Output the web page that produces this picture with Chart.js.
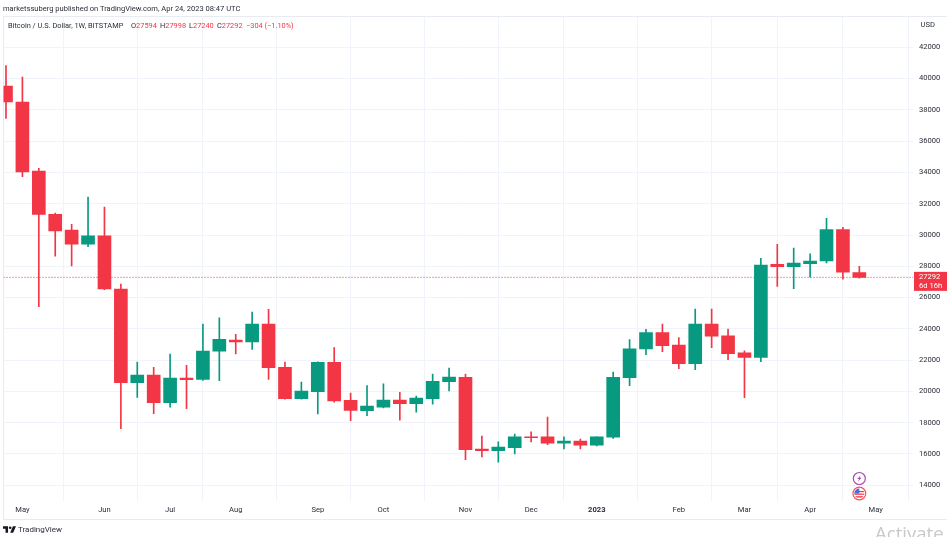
<!DOCTYPE html>
<html><head><meta charset="utf-8">
<script src="https://cdn.jsdelivr.net/npm/chart.js@4"></script>
<style>
html,body{margin:0;padding:0;background:#fff;width:947px;height:537px;overflow:hidden;font-family:Roboto,"Liberation Sans",sans-serif}
canvas{position:absolute;left:0;top:0}
.t{position:absolute;white-space:pre;color:#131722}
#frame{position:absolute;left:3px;top:16px;width:950px;height:502px;border:1px solid #e9ebf2;box-sizing:content-box}
#leg span{display:inline-block}
#leg b{font-weight:normal;display:inline-block;position:absolute;top:0}
</style></head><body>
<div id="frame"></div>
<canvas id="c" width="947" height="537"></canvas>
<div class="t" id="pub" style="left:3px;top:4px;font-size:7.55px;line-height:10px;color:#2a2e39"></div>
<div class="t" id="leg" style="left:8px;top:21px;font-size:7.4px;line-height:10px;color:#2a2e39"></div>
<svg style="position:absolute;left:3px;top:526px" width="13" height="7" viewBox="0 0 36 18"><path fill="#131722" d="M14 18H7V7H0V0h14zM28 18h-8l7.5-18H36z"/><circle cx="20" cy="4" r="3.6" fill="#131722"/></svg>
<div class="t" id="tvb" style="left:18px;top:524px;font-size:8px;line-height:11px;color:#2a2e39">TradingView</div>
<div class="t" style="left:875px;top:521px;font-size:18.6px;line-height:24px;color:#c9c9c9;font-family:'Open Sans',sans-serif">Activate</div>
<script>
const symbolTitle = "Bitcoin / U.S. Dollar, 1W, BITSTAMP";
const publishLine = "marketssuberg published on TradingView.com, Apr 24, 2023 08:47 UTC";
const changeLabel = "\u2212304 (\u22121.10%)";
const opens  = [39526,38500,34090,31320,30320,29420,29940,26550,20560,21050,19280,20860,20770,22580,23290,23160,24310,21540,19540,19980,21860,19430,18770,19000,19450,19210,19540,20620,20900,16320,16210,16400,17090,17090,16700,16830,16570,17070,20880,22710,23760,22970,21770,24310,23560,22460,22180,28130,27980,28170,28340,30340,27594];
const highs  = [40824,40100,34260,31400,30680,32430,31790,26870,21880,21540,22390,21670,24310,24700,23650,25080,25250,21880,20600,21900,22800,19900,20370,20480,19940,19710,21110,21500,21110,17150,16770,17280,17410,18360,17090,16950,17090,21240,23320,23970,24310,23440,25270,25270,23990,22600,28510,29400,29170,28790,31070,30490,27998];
const lows   = [37461,33730,25420,28640,28020,29250,26500,17620,19620,18580,19000,18900,20700,20690,22390,22690,20770,19500,19500,18560,19320,18130,18450,18950,18170,18670,19180,20030,15640,15810,15470,16000,16770,16590,16320,16320,16510,17000,20370,22350,22540,21450,21390,22800,22030,19600,21900,26720,26570,27300,28210,27170,27240];
const closes = [38503,34030,31320,30260,29420,29940,26550,20560,21050,19280,20860,20750,22580,23330,23160,24310,21520,19540,20030,21860,19390,18790,19070,19450,19210,19580,20650,20920,16270,16210,16450,17090,17050,16700,16830,16570,17090,20900,22720,23760,22920,21770,24310,23540,22410,22180,28080,27980,28210,28340,30340,27620,27292];
const monthTickIndex = [1,6,10,14,19,23,28,32,36,41,45,49,53];
const monthLabels = ["May","Jun","Jul","Aug","Sep","Oct","Nov","Dec","2023","Feb","Mar","Apr","May"];
const priceTicks = [14000,16000,18000,20000,22000,24000,26000,28000,30000,32000,34000,36000,38000,40000,42000];
const currency = "USD";
const countdown = "6d 16h";

const UP = "#089981", DOWN = "#F23645";
const xRange = [-0.152, 55.27];
const yRange = [12995, 43969];
const last = opens.length - 1;
const colors = closes.map((c,i)=> c>=opens[i] ? UP : DOWN);

document.getElementById('pub').textContent = publishLine;
const red = s => '<span style="color:'+DOWN+'">'+s+'</span>';
const at = (x,h) => '<b style="left:'+(x-8)+'px">'+h+'</b>';
document.getElementById('leg').innerHTML = symbolTitle
  + at(131,'O'+red(opens[last])) + at(160,'H'+red(highs[last])) + at(189,'L'+red(lows[last])) + at(217,'C'+red(closes[last])) + at(246,red(changeLabel));

const overlay = {
  id:'overlay',
  afterDraw(chart){
    const {ctx,scales:{x,y}} = chart;
    ctx.save();
    const py = y.getPixelForValue(closes[last]);
    ctx.fillStyle = DOWN;
    ctx.fillRect(914, py-5.5, 33, 19);
    ctx.fillStyle = '#fff';
    ctx.font = '7.6px Roboto, sans-serif';
    ctx.textAlign='left'; ctx.textBaseline='middle';
    ctx.fillText(String(closes[last]), 919, py);
    ctx.fillText(countdown, 919, py+9);
    ctx.fillStyle = '#2a2e39';
    ctx.fillText(currency, 920.5, 25);
    const ix = x.getPixelForValue(last);
    ctx.lineWidth = 1.2;
    ctx.strokeStyle = '#ab47bc';
    ctx.fillStyle = '#fff';
    ctx.beginPath(); ctx.arc(ix,478.5,6,0,Math.PI*2); ctx.fill(); ctx.stroke();
    ctx.fillStyle = '#ab47bc';
    ctx.beginPath();
    [[1.6,-3.6],[-2.2,0.6],[-0.2,0.6],[-1.6,3.6],[2.2,-0.8],[0.2,-0.8]].forEach((p,i)=> i?ctx.lineTo(ix+p[0],478.5+p[1]):ctx.moveTo(ix+p[0],478.5+p[1]));
    ctx.closePath(); ctx.fill();
    ctx.strokeStyle = '#f7525f';
    ctx.fillStyle = '#fff';
    ctx.beginPath(); ctx.arc(ix,493.5,6.4,0,Math.PI*2); ctx.fill(); ctx.stroke();
    ctx.beginPath(); ctx.arc(ix,493.5,5,0,Math.PI*2); ctx.save(); ctx.clip();
    ctx.fillStyle='#f23645';
    ctx.fillRect(ix-6,491,12,1.2); ctx.fillRect(ix-6,493.6,12,1.2); ctx.fillRect(ix-6,496.2,12,1.4);
    ctx.fillStyle='#3f6fd8';
    ctx.fillRect(ix-6,488,6,5.6);
    ctx.restore();
    ctx.restore();
  }
};

new Chart(document.getElementById('c'),{
  type:'bar',
  plugins:[overlay],
  data:{datasets:[
    {type:'line',order:3,data:[{x:xRange[0],y:closes[last]},{x:xRange[1],y:closes[last]}],borderColor:DOWN,borderWidth:1,borderDash:[1,2],pointRadius:0,fill:false},
    {order:2,grouped:false,barThickness:1,backgroundColor:colors,borderWidth:0,
      data:highs.map((h,i)=>({x:i,y:[lows[i],h]}))},
    {order:1,grouped:false,barThickness:13,backgroundColor:colors,borderWidth:0,
      data:opens.map((o,i)=>({x:i,y:[o,closes[i]]}))}
  ]},
  options:{
    responsive:false,animation:false,devicePixelRatio:1,
    layout:{padding:{left:3.5,top:16.5,right:0,bottom:0}},
    plugins:{legend:{display:false},tooltip:{enabled:false},title:{display:false}},
    scales:{
      x:{type:'linear',min:xRange[0],max:xRange[1],offset:false,
        afterFit(s){s.height=36;},
        afterBuildTicks(s){s.ticks=monthTickIndex.map(v=>({value:v}));},
        border:{display:false},
        grid:{color:'#f0f3fa',lineWidth:1,drawTicks:false},
        ticks:{autoSkip:false,maxRotation:0,minRotation:0,padding:5,color:'#2a2e39',
          font:c=>({family:'Roboto, sans-serif',size:7.6,weight:(c.tick&&c.tick.value===monthTickIndex[monthLabels.indexOf("2023")])?'bold':'normal'}),
          callback:v=>{const k=monthTickIndex.indexOf(v);return k<0?'':monthLabels[k];}}
      },
      y:{type:'linear',position:'right',min:yRange[0],max:yRange[1],
        afterFit(s){s.width=34;},
        afterBuildTicks(s){s.ticks=priceTicks.map(v=>({value:v}));},
        border:{display:false},
        grid:{color:'#f0f3fa',lineWidth:1,drawTicks:false},
        ticks:{padding:6,color:'#2a2e39',font:{family:'Roboto, sans-serif',size:7.6},callback:v=>String(v)}
      }
    }
  }
});
</script>
</body></html>
